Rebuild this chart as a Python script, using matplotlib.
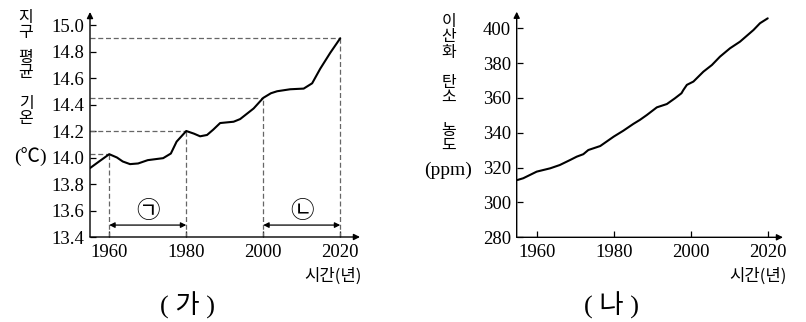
import matplotlib
matplotlib.use('Agg')
import matplotlib.pyplot as plt

# ---------------- data ----------------
temp_years = [1955, 1957.6, 1960, 1962, 1963.5, 1965.4, 1967.5, 1970, 1974, 1976,
              1977.5, 1980, 1982, 1983.6, 1985.4, 1987, 1988.8, 1992.3, 1994,
              1997.5, 2000, 2002, 2003.6, 2007, 2010.5, 2012.7, 2014.8, 2017.4, 2020]
temp_values = [13.92, 13.975, 14.025, 14.0, 13.97, 13.95, 13.955, 13.98, 13.995, 14.03,
               14.12, 14.20, 14.18, 14.16, 14.17, 14.21, 14.26, 14.27, 14.29,
               14.37, 14.45, 14.485, 14.50, 14.515, 14.52, 14.56, 14.67, 14.79, 14.90]
marked_years = [1960, 1980, 2000, 2020]
marked_temps = [14.025, 14.20, 14.45, 14.90]
periods = [(1960, 1980, '㉠'), (2000, 2020, '㉡')]

co2_years = [1955, 1956.5, 1960, 1963.5, 1966, 1968.7, 1970.4, 1972.1, 1973.4, 1976.5,
             1980, 1982.5, 1985.1, 1986.8, 1988.6, 1991.2, 1993.8, 1995.9, 1997.6,
             1998.1, 1999, 2000.7, 2003.3, 2005.5, 2007.6, 2010.2, 2012.8, 2016.3,
             2018, 2020]
co2_values = [312.9, 313.9, 317.7, 319.6, 321.5, 324.4, 326.3, 327.7, 330.1, 332.4,
              337.8, 341.2, 345.1, 347.4, 350.2, 354.6, 356.5, 359.8, 362.7,
              364.6, 367.5, 369.4, 375.1, 378.9, 383.7, 388.5, 392.3, 399.0,
              402.9, 405.7]

x_ticks = [1960, 1980, 2000, 2020]
temp_ticks = [13.4, 13.6, 13.8, 14.0, 14.2, 14.4, 14.6, 14.8, 15.0]
co2_ticks = [280, 300, 320, 340, 360, 380, 400]

temp_title_words = ['지구', '평균', '기온']
co2_title_words = ['이산화', '탄소', '농도']

# ---------------- figure ----------------
W, H = 806, 322
fig = plt.figure(figsize=(W / 100, H / 100), dpi=100)
KR = ['Noto Sans CJK KR', 'DejaVu Sans']
SERIF = 'Liberation Serif'
MIX = ['Liberation Serif', 'Noto Sans CJK KR', 'DejaVu Sans']


def rect(x0, y0, x1, y1):
    return [x0 / W, 1 - y1 / H, (x1 - x0) / W, (y1 - y0) / H]


def ftext(x, y, s, **kw):
    return fig.text(x / W, 1 - y / H, s, **kw)


def style_axes(ax, yticks, yfmt):
    for sp in ax.spines.values():
        sp.set_visible(False)
    arrow = dict(arrowstyle='-|>', lw=1.0, color='black', mutation_scale=9,
                 shrinkA=0, shrinkB=0)
    ax.annotate('', xy=(1, 0), xytext=(0, 0), xycoords='axes fraction',
                arrowprops=arrow, annotation_clip=False)
    ax.annotate('', xy=(0, 1), xytext=(0, 0), xycoords='axes fraction',
                arrowprops=arrow, annotation_clip=False)
    ax.set_xticks(x_ticks)
    ax.set_xticklabels([str(v) for v in x_ticks])
    ax.set_yticks(yticks)
    ax.set_yticklabels([yfmt.format(v) for v in yticks])
    ax.tick_params(direction='in', length=4, width=0.9, labelsize=13.5, color='black')
    ax.tick_params(axis='y', pad=4)
    ax.tick_params(axis='x', pad=5)
    for lab in ax.get_xticklabels() + ax.get_yticklabels():
        lab.set_fontfamily(SERIF)
    ax.patch.set_visible(False)


# ---- left panel (가) ----
ax1 = fig.add_axes(rect(90, 12, 360, 237))
ax1.set_xlim(1955, 1955 + 270 / 3.85)
ax1.set_ylim(13.4, 13.4 + 225 / 132.5)
style_axes(ax1, temp_ticks, '{:.1f}')

dash = dict(ls=(0, (4, 2.2)), color='0.4', lw=0.9)
for yr, tv in zip(marked_years, marked_temps):
    ax1.plot([1955, yr], [tv, tv], **dash)
    ax1.plot([yr, yr], [13.4, tv], **dash)

ax1.plot(temp_years, temp_values, color='black', lw=1.5, solid_capstyle='round')

for a, b, lab in periods:
    ax1.annotate('', xy=(b, 13.49), xytext=(a, 13.49),
                 arrowprops=dict(arrowstyle='<|-|>', lw=0.9, color='black',
                                 mutation_scale=8, shrinkA=0, shrinkB=0))
    ax1.text((a + b) / 2, 13.589, lab, fontsize=17, family=KR,
             ha='center', va='center')

# ---- right panel (나) ----
ax2 = fig.add_axes(rect(516.7, 11.7, 783, 237.3))
ax2.set_xlim(1954.8, 1954.8 + 266.3 / 3.85)
ax2.set_ylim(280, 280 + 225.6 / 1.742)
style_axes(ax2, co2_ticks, '{:d}')
ax2.plot(co2_years, co2_values, color='black', lw=1.5, solid_capstyle='round')

# ---- stacked axis titles (one text per word, letters stacked) ----
for word, y in zip(temp_title_words, [25, 65, 111]):
    ftext(26, y, '\n'.join(word), fontsize=11.5, family=KR, ha='center',
          va='center', linespacing=0.88, multialignment='center')
ftext(30, 157, '(℃)', fontsize=14, family=MIX, ha='center', va='center')

for word, y in zip(co2_title_words, [37, 90, 138]):
    ftext(449, y, '\n'.join(word), fontsize=11.5, family=KR, ha='center',
          va='center', linespacing=0.88, multialignment='center')
ftext(448, 170, '(ppm)', fontsize=14, family=SERIF, ha='center', va='center')

ftext(362, 276, '시간(년)', fontsize=12, family=KR, ha='right', va='center')
ftext(787, 276, '시간(년)', fontsize=12, family=KR, ha='right', va='center')

ftext(188, 305, '( 가 )', fontsize=19, family=MIX, ha='center', va='center')
ftext(612, 305, '( 나 )', fontsize=19, family=MIX, ha='center', va='center')

fig.savefig('out.png', dpi=100)
